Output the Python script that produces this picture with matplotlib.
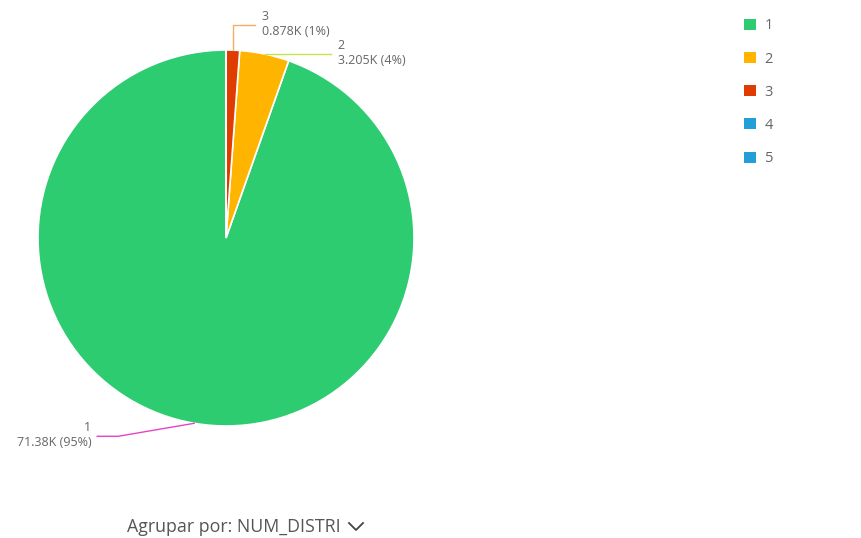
import numpy as np
import matplotlib
matplotlib.use("Agg")
import matplotlib.pyplot as plt
from matplotlib.patches import Patch
from matplotlib.lines import Line2D

plt.rcParams['font.family'] = ['Open Sans', 'DejaVu Sans']

# --- Datos ---
categories = ['1', '2', '3', '4', '5']
values_k = [71.38, 3.205, 0.878, 0.0, 0.0]   # miles
colors = ['#2ecc71', '#ffb400', '#de3c00', '#229fd9', '#229fd9']
leader_colors = ['#e544c8', '#c6e34c', '#f6ad6a']
group_label = 'Agrupar por: NUM_DISTRI'

W, H = 862, 538
fig = plt.figure(figsize=(W / 100, H / 100), dpi=100)

# centro del pie (px) y radio (px)
cx, cy, R = 226, 238, 188
ax = fig.add_axes([(cx - R) / W, (H - cy - R) / H, 2 * R / W, 2 * R / H])
wedges, _ = ax.pie(values_k, colors=colors, startangle=90, counterclock=True,
                   radius=1, wedgeprops=dict(edgecolor='white', linewidth=1.2))
ax.set_xlim(-1, 1)
ax.set_ylim(-1, 1)
ax.axis('off')

total = sum(values_k)

def px2fig(x, y):
    return x / W, 1 - y / H

# Etiquetas con líneas guía (desplazamientos en px desde el borde de la porción)
guides = {
    0: ([(-76, 13), (-97, 13)], 'right'),
    1: ([(0, 0), (66, 0)], 'left'),
    2: ([(0, -25), (22, -25)], 'left'),
}
for i, (pts, ha) in guides.items():
    w = wedges[i]
    mid = np.deg2rad((w.theta1 + w.theta2) / 2)
    ax_x = cx + R * np.cos(mid)
    ax_y = cy - R * np.sin(mid)
    xs = [ax_x] + [ax_x + dx for dx, dy in pts]
    ys = [ax_y] + [ax_y + dy for dx, dy in pts]
    fx, fy = zip(*[px2fig(x, y) for x, y in zip(xs, ys)])
    fig.add_artist(Line2D(fx, fy, color=leader_colors[i], lw=1.0))
    pct = values_k[i] / total * 100
    txt = f"{categories[i]}\n{values_k[i]:.4g}K ({pct:.0f}%)"
    tx = xs[-1] + (7 if ha == 'left' else -6)
    tpos = px2fig(tx, ys[-1] - 1)
    fig.text(tpos[0], tpos[1], txt, ha=ha, va='center', fontsize=9,
             color='#666666', linespacing=1.2, multialignment=ha)

# Leyenda
handles = [Patch(facecolor=c, edgecolor='none') for c in colors]
fig.legend(handles, categories, loc='upper left', bbox_to_anchor=(737 / W, 1 - 11 / H),
           frameon=False, fontsize=10.5, labelcolor='#666666', handlelength=0.8,
           handleheight=0.8, handletextpad=0.6, labelspacing=1.25, borderpad=0)

# Texto inferior
fig.text(127 / W, 1 - 527 / H, group_label, ha='left', va='center', fontsize=12.8,
         color='#555555')
chev_x = [349, 356, 363]
chev_y = [523, 530, 523]
fx, fy = zip(*[px2fig(x, y) for x, y in zip(chev_x, chev_y)])
fig.add_artist(Line2D(fx, fy, color='#444444', lw=1.3))

fig.savefig('out.png', dpi=100)
